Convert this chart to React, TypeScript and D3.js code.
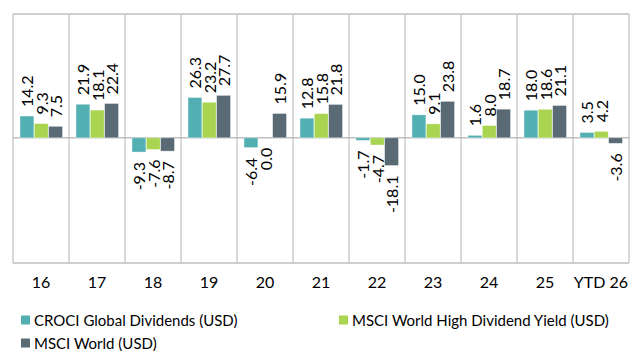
import React from "react";
import * as d3 from "d3";

const categories = ["16", "17", "18", "19", "20", "21", "22", "23", "24", "25", "YTD 26"];
const seriesNames = ["CROCI Global Dividends (USD)", "MSCI World High Dividend Yield (USD)", "MSCI World (USD)"];
const croci = [14.2, 21.9, -9.3, 26.3, -6.4, 12.8, -1.7, 15.0, 1.6, 18.0, 3.5];
const highDiv = [9.3, 18.1, -7.6, 23.2, 0.0, 15.8, -4.7, 9.1, 8.0, 18.6, 4.2];
const world = [7.5, 22.4, -8.7, 27.7, 15.9, 21.8, -18.1, 23.8, 18.7, 21.1, -3.6];
const colors = ["#52AFB2", "#A9D44F", "#596A75"];

const W = 630;
const H = 351;
const FONT = "Lato, 'Open Sans', sans-serif";

export default function App() {
  const series = [croci, highDiv, world];
  const left = 13, right = 629, top = 14, bottom = 263;
  const x = d3.scaleBand<string>().domain(categories).range([left, right]).padding(0);
  const x1 = d3.scaleBand<number>().domain([0, 1, 2]).range([7, 49.5]).paddingInner(0.03);
  const y = d3.scaleLinear().domain([-81.7, 80.8]).range([bottom, top]);
  const grid = "#BFBFBF";
  const boundaries = categories.map((c) => x(c)!).concat([right]);

  return (
    <svg width={W} height={H} style={{ position: "absolute", left: 0, top: 0 }}>
      <rect x={0} y={0} width={W} height={H} fill="#fff" />
      <line x1={left} x2={right} y1={top} y2={top} stroke={grid} strokeWidth={1.5} />
      <line x1={left} x2={right} y1={bottom} y2={bottom} stroke={grid} strokeWidth={1.5} />
      {boundaries.map((bx, i) => (
        <line key={i} x1={bx} x2={bx} y1={top} y2={bottom} stroke={grid} strokeWidth={1.2} />
      ))}
      <line x1={left} x2={right} y1={y(0)} y2={y(0)} stroke={grid} strokeWidth={1.5} />
      {categories.map((c, ci) =>
        series.map((s, si) => {
          const v = s[ci];
          const bx = x(c)! + x1(si)!;
          const bw = x1.bandwidth();
          const y0 = y(Math.max(0, v));
          const h = Math.abs(y(v) - y(0));
          return (
            <rect
              key={`${ci}-${si}`}
              x={bx}
              y={y0}
              width={bw}
              height={h}
              fill={colors[si]}
              stroke="#ffffff"
              strokeOpacity={0.5}
              strokeWidth={0.75}
            />
          );
        })
      )}
      {categories.map((c, ci) =>
        series.map((s, si) => {
          const v = s[ci];
          const cx = x(c)! + x1(si)! + x1.bandwidth() / 2;
          const pos = v > 0;
          const ly = pos ? y(v) - 9 : y(v) + 10;
          return (
            <text
              key={`l-${ci}-${si}`}
              transform={`translate(${cx},${ly}) rotate(-90)`}
              textAnchor={pos ? "start" : "end"}
              dominantBaseline="central"
              fontFamily={FONT}
              fontSize={16}
              fill="#000"
            >
              {v.toFixed(1)}
            </text>
          );
        })
      )}
      {categories.map((c) => (
        <text
          key={`t-${c}`}
          x={x(c)! + x.bandwidth() / 2}
          y={281}
          textAnchor="middle"
          dominantBaseline="central"
          fontFamily={FONT}
          fontSize={16}
          fill="#000"
        >
          {c}
        </text>
      ))}
      {[
        { i: 0, x: 21, y: 320 },
        { i: 1, x: 339, y: 320 },
        { i: 2, x: 21, y: 343 },
      ].map((l) => (
        <g key={`lg-${l.i}`}>
          <rect x={l.x} y={l.y - 4.5} width={9} height={9} fill={colors[l.i]} />
          <text
            x={l.x + 13}
            y={l.y}
            dominantBaseline="central"
            fontFamily={FONT}
            fontSize={15}
            fill="#000"
          >
            {seriesNames[l.i]}
          </text>
        </g>
      ))}
    </svg>
  );
}
